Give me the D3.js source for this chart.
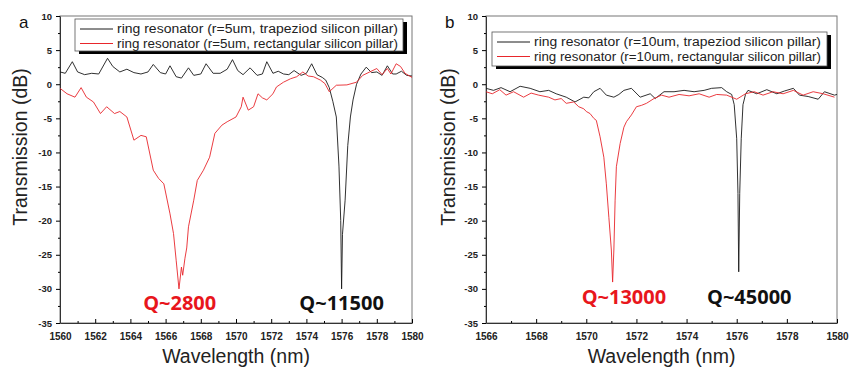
<!DOCTYPE html>
<html>
<head>
<meta charset="utf-8">
<script src="https://cdn.jsdelivr.net/npm/d3@7"></script>
<style>
  html, body { margin: 0; padding: 0; background: #fff; }
  svg { display: block; font-family: "Liberation Sans", Arial, sans-serif; }
  .axis text { font-weight: bold; fill: #222; }
</style>
</head>
<body>
<svg id="chart" width="850" height="369"></svg>
<script>
// panel a: r = 5 um rings, [wavelength nm, transmission dB]
const aTrapezoid = [
  [1560.0, 1.8], [1560.3, 1.6], [1560.7, 3.3], [1561.0, 1.8], [1561.4, 1.4], [1561.8, 1.6],
  [1562.2, 1.5], [1562.7, 3.8], [1563.0, 2.6], [1563.4, 1.8], [1563.8, 2.2], [1564.2, 1.7],
  [1564.6, 1.5], [1565.0, 1.8], [1565.3, 2.9], [1565.7, 1.7], [1566.0, 1.5], [1566.25, 2.7],
  [1566.6, 1.1], [1566.9, 0.9], [1567.3, 2.4], [1567.6, 1.3], [1568.0, 1.5], [1568.3, 3.0],
  [1568.7, 1.6], [1569.1, 1.6], [1569.5, 2.2], [1569.8, 3.6], [1570.1, 2.0], [1570.4, 1.4],
  [1570.8, 2.4], [1571.2, 1.3], [1571.5, 1.5], [1571.75, 3.3], [1572.1, 1.6], [1572.4, 1.9],
  [1572.7, 1.5], [1573.0, 1.4], [1573.3, 2.0], [1573.7, 1.3], [1574.0, 1.6], [1574.3, 3.0],
  [1574.6, 1.4], [1574.9, 1.0], [1575.1, 0.6], [1575.3, -0.5], [1575.5, -2.5], [1575.7, -4.8],
  [1575.85, -12], [1575.95, -20], [1576.0, -30], [1576.05, -22], [1576.2, -17], [1576.35, -9],
  [1576.5, -4.8], [1576.65, -2.3], [1576.85, 0], [1577.1, 1.5], [1577.4, 2.5], [1577.7, 1.7],
  [1578.0, 1.8], [1578.3, 1.3], [1578.6, 2.7], [1578.9, 1.5], [1579.1, 1.5], [1579.4, 1.9],
  [1579.7, 1.3], [1580.0, 1.2]
];
const aRectangular = [
  [1560.0, -0.6], [1560.4, -1.4], [1560.85, -1.9], [1561.2, -0.5], [1561.5, -1.9], [1561.9, -2.6],
  [1562.3, -4.3], [1562.65, -3.3], [1563.1, -4.3], [1563.4, -4.0], [1563.8, -4.8], [1564.2, -8.2],
  [1564.6, -7.5], [1564.9, -7.7], [1565.3, -12.6], [1565.6, -13.8], [1565.9, -14.6], [1566.25, -19],
  [1566.45, -21.9], [1566.6, -25.8], [1566.76, -30], [1566.9, -26.8], [1566.97, -28], [1567.1, -25.5],
  [1567.2, -24], [1567.3, -20.9], [1567.6, -17], [1567.8, -14.1], [1568.15, -12.6], [1568.5, -10.7],
  [1568.8, -7.2], [1569.2, -6], [1569.5, -5.5], [1570.0, -4.8], [1570.3, -3.3], [1570.4, -1.9],
  [1570.7, -3.8], [1571.0, -3.3], [1571.25, -1.4], [1571.5, -2.0], [1571.75, -2.3], [1572.1, -1.4],
  [1572.3, -0.4], [1572.7, 0.3], [1573.1, 0.8], [1573.45, 1.1], [1573.8, 1.8], [1574.1, 1.2],
  [1574.4, 1.1], [1574.8, 0.6], [1575.05, 0.1], [1575.3, -1.1], [1575.7, -0.15], [1576.3, -0.1],
  [1576.85, 0.3], [1577.2, 1.3], [1577.6, 1.8], [1578.0, 2.3], [1578.3, 1.4], [1578.6, 2.3],
  [1578.8, 1.5], [1579.1, 3.0], [1579.35, 2.6], [1579.6, 1.6], [1580.0, 1.0]
];

// panel b: r = 10 um rings
const bTrapezoid = [
  [1566.0, -0.6], [1566.3, -0.9], [1566.6, -0.5], [1566.96, -1.1], [1567.36, -0.3], [1567.76, -0.6],
  [1568.15, -1.1], [1568.5, -0.9], [1568.8, -1.4], [1569.2, -1.9], [1569.55, -2.6], [1569.9, -1.9],
  [1570.1, -2.0], [1570.3, -1.1], [1570.55, -0.6], [1570.8, -1.6], [1571.1, -1.9], [1571.3, -1.5],
  [1571.5, -0.9], [1571.8, -0.6], [1572.15, -1.9], [1572.55, -1.4], [1572.75, -2.1], [1573.1, -1.1],
  [1573.5, -1.1], [1573.9, -0.9], [1574.3, -1.1], [1574.7, -0.9], [1575.0, -0.6], [1575.4, -0.5],
  [1575.6, -1.1], [1575.8, -1.5], [1575.9, -3], [1576.0, -8], [1576.05, -16], [1576.08, -27.5],
  [1576.12, -16], [1576.18, -8], [1576.25, -3], [1576.35, -1.5], [1576.45, -0.9], [1576.8, -1.4],
  [1577.2, -0.8], [1577.6, -1.4], [1577.9, -1.0], [1578.26, -0.6], [1578.5, -1.6], [1578.85, -1.8],
  [1579.25, -2.2], [1579.5, -1.1], [1579.9, -1.6], [1580.0, -1.5]
];
const bRectangular = [
  [1566.0, -1.1], [1566.25, -1.4], [1566.55, -0.8], [1566.8, -1.6], [1567.1, -1.1], [1567.5, -1.9],
  [1567.8, -1.3], [1568.1, -1.6], [1568.5, -1.9], [1568.75, -2.3], [1569.0, -2.1], [1569.2, -2.8],
  [1569.5, -2.6], [1569.7, -3.3], [1569.9, -3.6], [1570.0, -4.0], [1570.15, -4.3], [1570.3, -5.0],
  [1570.4, -5.3], [1570.55, -7.7], [1570.7, -10.7], [1570.8, -14.6], [1570.9, -19.5], [1571.0, -24.3],
  [1571.05, -29], [1571.1, -24.3], [1571.15, -17], [1571.2, -12.1], [1571.35, -8.7], [1571.5, -6.3],
  [1571.6, -5.5], [1571.8, -4.5], [1572.0, -3.3], [1572.2, -3.1], [1572.4, -2.8], [1572.7, -2.1],
  [1573.0, -1.6], [1573.3, -1.9], [1573.7, -1.5], [1574.1, -1.7], [1574.5, -1.4], [1574.9, -1.9],
  [1575.2, -1.5], [1575.6, -1.6], [1576.0, -2.2], [1576.35, -1.4], [1576.7, -1.1], [1577.05, -1.6],
  [1577.45, -1.1], [1577.85, -1.4], [1578.26, -0.9], [1578.65, -1.6], [1579.05, -1.1], [1579.45, -1.4],
  [1579.9, -1.9]
];

const yTicks = [-35, -30, -25, -20, -15, -10, -5, 0, 5, 10];
const aXTicks = [1560, 1562, 1564, 1566, 1568, 1570, 1572, 1574, 1576, 1578, 1580];
const bXTicks = [1566, 1568, 1570, 1572, 1574, 1576, 1578, 1580];
const aLegend = ['ring resonator (r=5um, trapeziod silicon pillar)', 'ring resonator (r=5um, rectangular silicon pillar)'];
const bLegend = ['ring resonator (r=10um, trapeziod silicon pillar)', 'ring resonator (r=10um, rectangular silicon pillar)'];
const aNotes = [{ text: 'Q~2800', wl: 1566.8, color: 'red' }, { text: 'Q~11500', wl: 1576.0, color: 'black' }];
const bNotes = [{ text: 'Q~13000', wl: 1571.5, color: 'red' }, { text: 'Q~45000', wl: 1576.5, color: 'black' }];

const RED = '#e8262b';
const BLACK = '#1a1a1a';

const svg = d3.select('#chart');

function drawPanel(p) {
  const x = d3.scaleLinear().domain(p.domain).range([p.left, p.right]);
  const y = d3.scaleLinear().domain([-35, 10]).range([323, 16]);

  // frame (top / right)
  svg.append('rect')
    .attr('x', p.left).attr('y', y(10))
    .attr('width', p.right - p.left).attr('height', y(-35) - y(10))
    .attr('fill', 'none').attr('stroke', '#777').attr('stroke-width', 1);

  // minor ticks, no labels
  const minorX = d3.range(p.domain[0] + 1, p.domain[1], 2);
  svg.append('g').attr('class', 'axis')
    .attr('transform', `translate(0,${y(-35)})`)
    .call(d3.axisBottom(x).tickValues(minorX).tickSize(-2))
    .call(a => a.select('.domain').remove())
    .call(a => a.selectAll('text').remove());
  svg.append('g').attr('class', 'axis')
    .attr('transform', `translate(${p.left},0)`)
    .call(d3.axisLeft(y).tickValues(d3.range(-32.5, 10, 5)).tickSize(2))
    .call(a => a.select('.domain').remove())
    .call(a => a.selectAll('text').remove());

  // major axes
  svg.append('g').attr('class', 'axis')
    .attr('transform', `translate(0,${y(-35)})`)
    .call(d3.axisBottom(x).tickValues(p.xTicks).tickSize(-4).tickPadding(10).tickSizeOuter(0)
      .tickFormat(d => String(d)))
    .call(a => a.selectAll('text').attr('font-size', 10))
    .call(a => a.select('.domain').attr('stroke', '#333'));
  svg.append('g').attr('class', 'axis')
    .attr('transform', `translate(${p.left},0)`)
    .call(d3.axisLeft(y).tickValues(yTicks).tickSize(4).tickPadding(4).tickSizeOuter(0)
      .tickFormat(d => String(d)))
    .call(a => a.selectAll('text').attr('font-size', 9.5))
    .call(a => a.select('.domain').attr('stroke', '#333'));

  const line = d3.line().x(d => x(d[0])).y(d => y(d[1]));
  svg.append('path').datum(p.series[0])
    .attr('d', line).attr('fill', 'none').attr('stroke', BLACK).attr('stroke-width', 0.9);
  svg.append('path').datum(p.series[1])
    .attr('d', line).attr('fill', 'none').attr('stroke', RED).attr('stroke-width', 0.9);

  // axis titles
  svg.append('text')
    .attr('x', (p.left + p.right) / 2).attr('y', 363)
    .attr('text-anchor', 'middle').attr('font-size', 19.5).attr('fill', '#222')
    .text('Wavelength (nm)');
  svg.append('text')
    .attr('transform', `translate(${p.ytitleX},147) rotate(-90)`)
    .attr('text-anchor', 'middle').attr('font-size', 19.5).attr('fill', '#222')
    .text('Transmission (dB)');

  // panel letter
  svg.append('text')
    .attr('x', p.letterX).attr('y', 28)
    .attr('font-size', 17).attr('fill', '#111')
    .text(p.letter);

  // legend
  const L = p.legend;
  svg.append('rect')
    .attr('x', L.x + 4).attr('y', L.y + 3).attr('width', L.w).attr('height', L.h)
    .attr('fill', '#000');
  svg.append('rect')
    .attr('x', L.x).attr('y', L.y).attr('width', L.w).attr('height', L.h)
    .attr('fill', '#fff').attr('stroke', '#555').attr('stroke-width', 0.8);
  p.legendText.forEach((t, i) => {
    const cy = L.y + 10 + i * 14.5;
    svg.append('line')
      .attr('x1', L.x + 5).attr('x2', L.x + 38).attr('y1', cy).attr('y2', cy)
      .attr('stroke', i === 0 ? BLACK : RED).attr('stroke-width', 1);
    svg.append('text')
      .attr('x', L.x + 42).attr('y', cy + 4)
      .attr('font-size', 12).attr('fill', '#222')
      .attr('textLength', L.textW).attr('lengthAdjust', 'spacingAndGlyphs')
      .text(t);
  });

  // Q annotations
  p.notes.forEach(n => {
    svg.append('text')
      .attr('x', x(n.wl)).attr('y', p.noteY)
      .attr('text-anchor', 'middle')
      .attr('font-family', '"Open Sans", "Liberation Sans", sans-serif')
      .attr('font-weight', 700).attr('font-size', 20)
      .attr('fill', n.color === 'red' ? '#e8161c' : '#111')
      .text(n.text);
  });
}

drawPanel({
  letter: 'a', letterX: 19, domain: [1560, 1580], left: 60, right: 412, xTicks: aXTicks,
  series: [aTrapezoid, aRectangular], legendText: aLegend, notes: aNotes, noteY: 310,
  legend: { x: 75, y: 19, w: 328, h: 32, textW: 281 }, ytitleX: 27
});
drawPanel({
  letter: 'b', letterX: 445, domain: [1566, 1580], left: 486, right: 837, xTicks: bXTicks,
  series: [bTrapezoid, bRectangular], legendText: bLegend, notes: bNotes, noteY: 304,
  legend: { x: 492, y: 32, w: 335, h: 34, textW: 287 }, ytitleX: 455
});
</script>
</body>
</html>
